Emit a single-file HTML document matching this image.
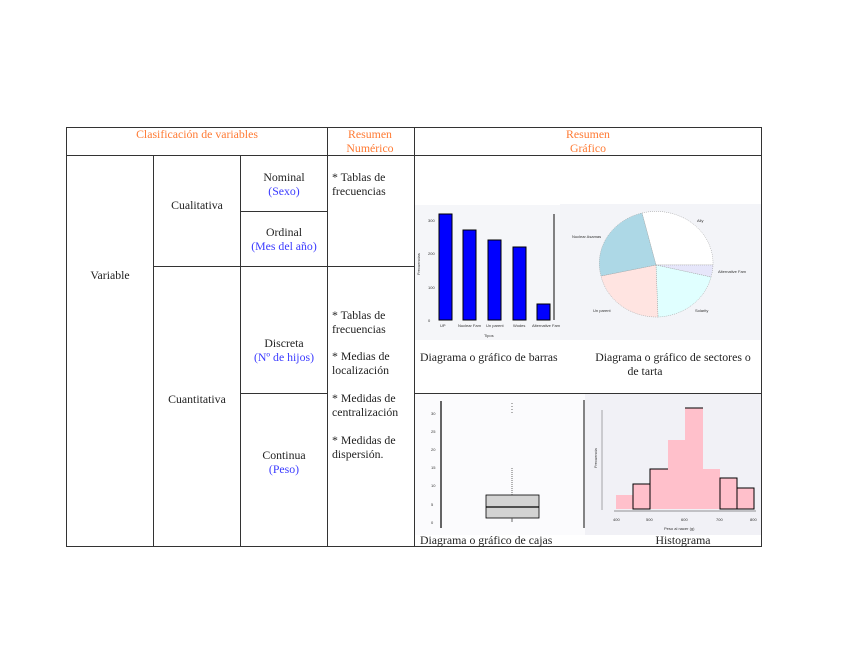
<!DOCTYPE html>
<html><head><meta charset="utf-8"><style>
html,body{margin:0;padding:0;background:#fff;}
svg{display:block;}
text{font-family:"Liberation Serif",serif;font-size:11.8px;fill:#222;}
.o{fill:#ff7a33;}
.b{fill:#3b3bff;}
.t{font-family:"Liberation Sans",sans-serif;font-size:4px;fill:#333;}
</style></head><body>
<svg width="848" height="655" viewBox="0 0 848 655" xmlns="http://www.w3.org/2000/svg">
<rect width="848" height="655" fill="#fff"/>
<rect x="414" y="205" width="146" height="135" fill="#f5f6f9"/>
<rect x="560" y="204" width="202" height="136" fill="#f3f4f8"/>
<rect x="414" y="394" width="171" height="141" fill="#fbfbfd"/>
<rect x="585" y="394" width="177" height="141" fill="#f1f1f6"/>
<g stroke="#000" stroke-width="1">
<rect x="439" y="214" width="13" height="106" fill="#0000ff"/>
<rect x="463" y="230" width="13" height="90" fill="#0000ff"/>
<rect x="488" y="240" width="13" height="80" fill="#0000ff"/>
<rect x="513" y="247" width="13" height="73" fill="#0000ff"/>
<rect x="537" y="304" width="13" height="16" fill="#0000ff"/>
</g>
<line x1="554" y1="214" x2="554" y2="320" stroke="#333" stroke-width="1.2"/>
<text class="t" x="428" y="222">300</text><text class="t" x="428" y="255">200</text><text class="t" x="428" y="289">100</text><text class="t" x="428" y="322">0</text>
<text class="t" x="420" y="275" transform="rotate(-90 420 275)">Frecuencias</text>
<text class="t" x="440" y="327">UP</text><text class="t" x="458" y="327">Nuclear Fam</text><text class="t" x="486" y="327">Un parent</text><text class="t" x="513" y="327">Wodes</text><text class="t" x="532" y="327">Alternative Fam</text>
<text class="t" x="484" y="337">Tipos</text>
<g stroke="#999" stroke-width="0.5" stroke-dasharray="1,1">
<path d="M656,265 L642,213 A57,52 0 0 1 713,265 Z" fill="#ffffff"/>
<path d="M656,265 L713,265 A57,52 0 0 1 711,277 Z" fill="#e6e6fa"/>
<path d="M656,265 L711,277 A57,52 0 0 1 658,317 Z" fill="#e0ffff"/>
<path d="M656,265 L658,317 A57,52 0 0 1 601,276 Z" fill="#ffe4e1"/>
<path d="M656,265 L601,276 A57,52 0 0 1 642,213 Z" fill="#add8e6"/>
</g>
<text class="t" x="572" y="238">Nuclear Asamas</text>
<text class="t" x="697" y="222">Ally</text>
<text class="t" x="718" y="273">Alternative Fam</text>
<text class="t" x="593" y="312">Un parent</text>
<text class="t" x="695" y="312">Solarity</text>
<line x1="441" y1="401" x2="441" y2="528" stroke="#000" stroke-width="1.2"/>
<line x1="584" y1="400" x2="584" y2="528" stroke="#333" stroke-width="1.2"/>
<rect x="486" y="495" width="53" height="23" fill="#d3d3d3" stroke="#000" stroke-width="0.8"/>
<line x1="486" y1="507" x2="539" y2="507" stroke="#000" stroke-width="1.3"/>
<line x1="512" y1="468" x2="512" y2="495" stroke="#444" stroke-width="0.8" stroke-dasharray="1,1"/>
<line x1="512" y1="403" x2="512" y2="414" stroke="#444" stroke-width="0.8" stroke-dasharray="1,2"/>
<line x1="512" y1="518" x2="512" y2="522" stroke="#444" stroke-width="0.8"/>
<text class="t" x="431" y="415">30</text><text class="t" x="431" y="433">25</text><text class="t" x="431" y="451">20</text><text class="t" x="431" y="469">15</text><text class="t" x="431" y="487">10</text><text class="t" x="431" y="506">5</text><text class="t" x="431" y="524">0</text>
<g fill="#ffc0cb">
<rect x="616" y="495" width="17" height="14"/>
<rect x="633" y="484" width="17" height="25"/>
<rect x="650" y="469" width="18" height="40"/>
<rect x="668" y="440" width="17" height="69"/>
<rect x="685" y="408" width="18" height="101"/>
<rect x="703" y="469" width="17" height="40"/>
<rect x="720" y="478" width="17" height="31"/>
<rect x="737" y="488" width="17" height="21"/>
</g>
<g fill="none" stroke="#000" stroke-width="1">
<rect x="633" y="484" width="17" height="25"/>
<path d="M650,509 V469 H668"/>
<path d="M685,408 H703"/>
<rect x="720" y="478" width="17" height="31"/>
<rect x="737" y="488" width="17" height="21"/>
</g>
<line x1="614" y1="511" x2="756" y2="511" stroke="#333" stroke-width="0.6"/>
<line x1="602" y1="410" x2="602" y2="510" stroke="#333" stroke-width="0.4"/>
<text class="t" x="613" y="521">400</text><text class="t" x="646" y="521">500</text><text class="t" x="681" y="521">600</text><text class="t" x="716" y="521">700</text><text class="t" x="750" y="521">800</text>
<text class="t" x="664" y="530">Peso al nacer (g)</text>
<text class="t" x="597" y="468" transform="rotate(-90 597 468)">Frecuencia</text>
<g stroke="#333" stroke-width="1" fill="none">
<rect x="66.5" y="127.5" width="695" height="419"/>
<line x1="66" y1="155.5" x2="762" y2="155.5"/>
<line x1="153.5" y1="156" x2="153.5" y2="547"/>
<line x1="240.5" y1="156" x2="240.5" y2="547"/>
<line x1="327.5" y1="127" x2="327.5" y2="547"/>
<line x1="414.5" y1="127" x2="414.5" y2="547"/>
<line x1="240" y1="211.5" x2="327" y2="211.5"/>
<line x1="153" y1="266.5" x2="414" y2="266.5"/>
<line x1="240" y1="393.5" x2="327" y2="393.5"/>
<line x1="414" y1="393.5" x2="762" y2="393.5"/>
</g>
<text class="o" x="197" y="138" text-anchor="middle">Clasificación de variables</text>
<text class="o" x="370" y="138" text-anchor="middle">Resumen</text>
<text class="o" x="370" y="152" text-anchor="middle">Numérico</text>
<text class="o" x="588" y="138" text-anchor="middle">Resumen</text>
<text class="o" x="588" y="152" text-anchor="middle">Gráfico</text>
<text x="110" y="279" text-anchor="middle">Variable</text>
<text x="197" y="209" text-anchor="middle">Cualitativa</text>
<text x="197" y="403" text-anchor="middle">Cuantitativa</text>
<text x="284" y="181" text-anchor="middle">Nominal</text>
<text class="b" x="284" y="195" text-anchor="middle">(Sexo)</text>
<text x="284" y="236" text-anchor="middle">Ordinal</text>
<text class="b" x="284" y="250" text-anchor="middle">(Mes del año)</text>
<text x="284" y="347" text-anchor="middle">Discreta</text>
<text class="b" x="284" y="361" text-anchor="middle">(Nº de hijos)</text>
<text x="284" y="459" text-anchor="middle">Continua</text>
<text class="b" x="284" y="473" text-anchor="middle">(Peso)</text>
<text x="332" y="181">* Tablas de</text>
<text x="332" y="195">frecuencias</text>
<text x="332" y="319">* Tablas de</text>
<text x="332" y="333">frecuencias</text>
<text x="332" y="360">* Medias de</text>
<text x="332" y="374">localización</text>
<text x="332" y="402">* Medidas de</text>
<text x="332" y="416">centralización</text>
<text x="332" y="444">* Medidas de</text>
<text x="332" y="458">dispersión.</text>
<text x="420" y="361">Diagrama o gráfico de barras</text>
<text x="673" y="361" text-anchor="middle">Diagrama o gráfico de sectores o</text>
<text x="645" y="375" text-anchor="middle">de tarta</text>
<text x="420" y="544">Diagrama o gráfico de cajas</text>
<text x="683" y="544" text-anchor="middle">Histograma</text>
</svg>
</body></html>
